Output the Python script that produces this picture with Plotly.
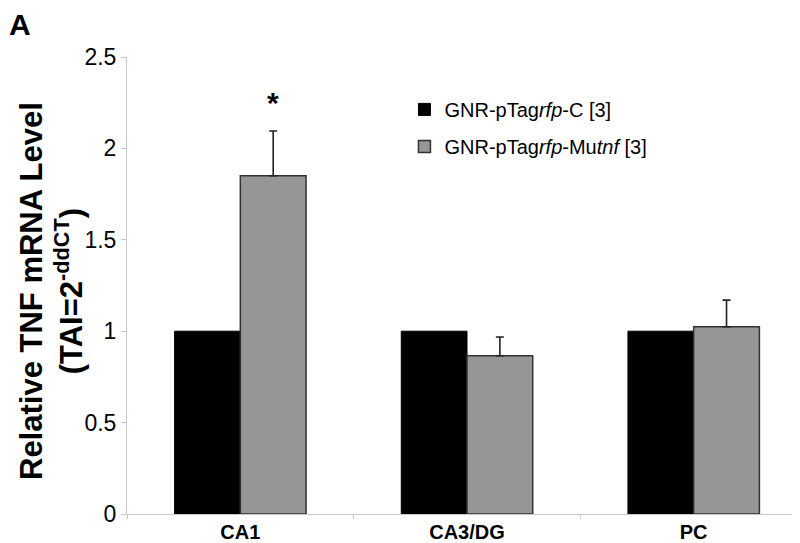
import plotly.graph_objects as go

categories = ["CA1", "CA3/DG", "PC"]
control_values = [1.0, 1.0, 1.0]
mutant_values = [1.85, 0.866, 1.024]
mutant_errors = [0.245, 0.102, 0.146]
control_name = "GNR-pTag<i>rfp</i>-C [3]"
mutant_name = "GNR-pTag<i>rfp</i>-Mu<i>tnf</i> [3]"
y_ticks = [0, 0.5, 1, 1.5, 2, 2.5]
y_tick_labels = ["0", "0.5", "1", "1.5", "2", "2.5"]
star_y = 2.25

FONT = "Arial, Liberation Sans, sans-serif"

fig = go.Figure()
fig.add_trace(go.Bar(
    x=categories, y=control_values, name=control_name,
    marker=dict(color="#000000", line=dict(color="#000000", width=1)),
    legendgroup="c",
))
fig.add_trace(go.Bar(
    x=categories, y=mutant_values, name=mutant_name,
    marker=dict(color="#969696", line=dict(color="#333333", width=1.5)),
    error_y=dict(type="data", array=mutant_errors, arrayminus=[0] * len(mutant_errors),
                 symmetric=False, color="#222222", thickness=1.6, width=4),
    legendgroup="m",
))

fig.update_layout(
    width=800, height=543,
    margin=dict(l=119, r=1, t=49, b=37),
    paper_bgcolor="white", plot_bgcolor="white",
    barmode="group", bargap=0.42, bargroupgap=0,
    font=dict(family=FONT, color="#000000"),
    showlegend=True,
    legend=dict(x=0.408, y=0.928, xanchor="left", yanchor="top",
                font=dict(size=20, family=FONT), bgcolor="rgba(0,0,0,0)",
                traceorder="grouped", tracegroupgap=8),
    xaxis=dict(
        type="category", showline=True, linecolor="#c8c8c8", linewidth=1,
        ticks="outside", tickson="boundaries", ticklen=4, tickcolor="#c8c8c8",
        tickfont=dict(size=20, family=FONT), showgrid=False, zeroline=False,
        range=[-0.5, 2.5], automargin=False,
    ),
    yaxis=dict(
        range=[0, 2.5], tickvals=y_ticks, ticktext=y_tick_labels,
        showline=True, linecolor="#c8c8c8", linewidth=1,
        ticks="outside", ticklen=5, tickcolor="#c8c8c8",
        tickfont=dict(size=23, family=FONT), showgrid=False, zeroline=False,
    ),
)

fig.update_xaxes(ticktext=["<b>" + c + "</b>" for c in categories], tickvals=categories)

fig.add_annotation(
    x="CA1", y=star_y, xref="x", yref="y", text="<b>*</b>", showarrow=False,
    xshift=33, font=dict(size=30, family=FONT),
)
fig.add_annotation(
    x=-0.112, y=0.4876, xref="paper", yref="paper",
    text="<b>Relative TNF mRNA Level<br>(TAI=2<sup>-ddCT</sup>)</b>",
    textangle=-90, showarrow=False, xanchor="center", yanchor="middle",
    font=dict(size=31, family=FONT),
)
fig.add_annotation(
    x=0, y=1, xref="paper", yref="paper", text="<b>A</b>", showarrow=False,
    xanchor="left", yanchor="top", xshift=-120, yshift=51,
    font=dict(size=30, family=FONT),
)

fig.write_html("out.html")
